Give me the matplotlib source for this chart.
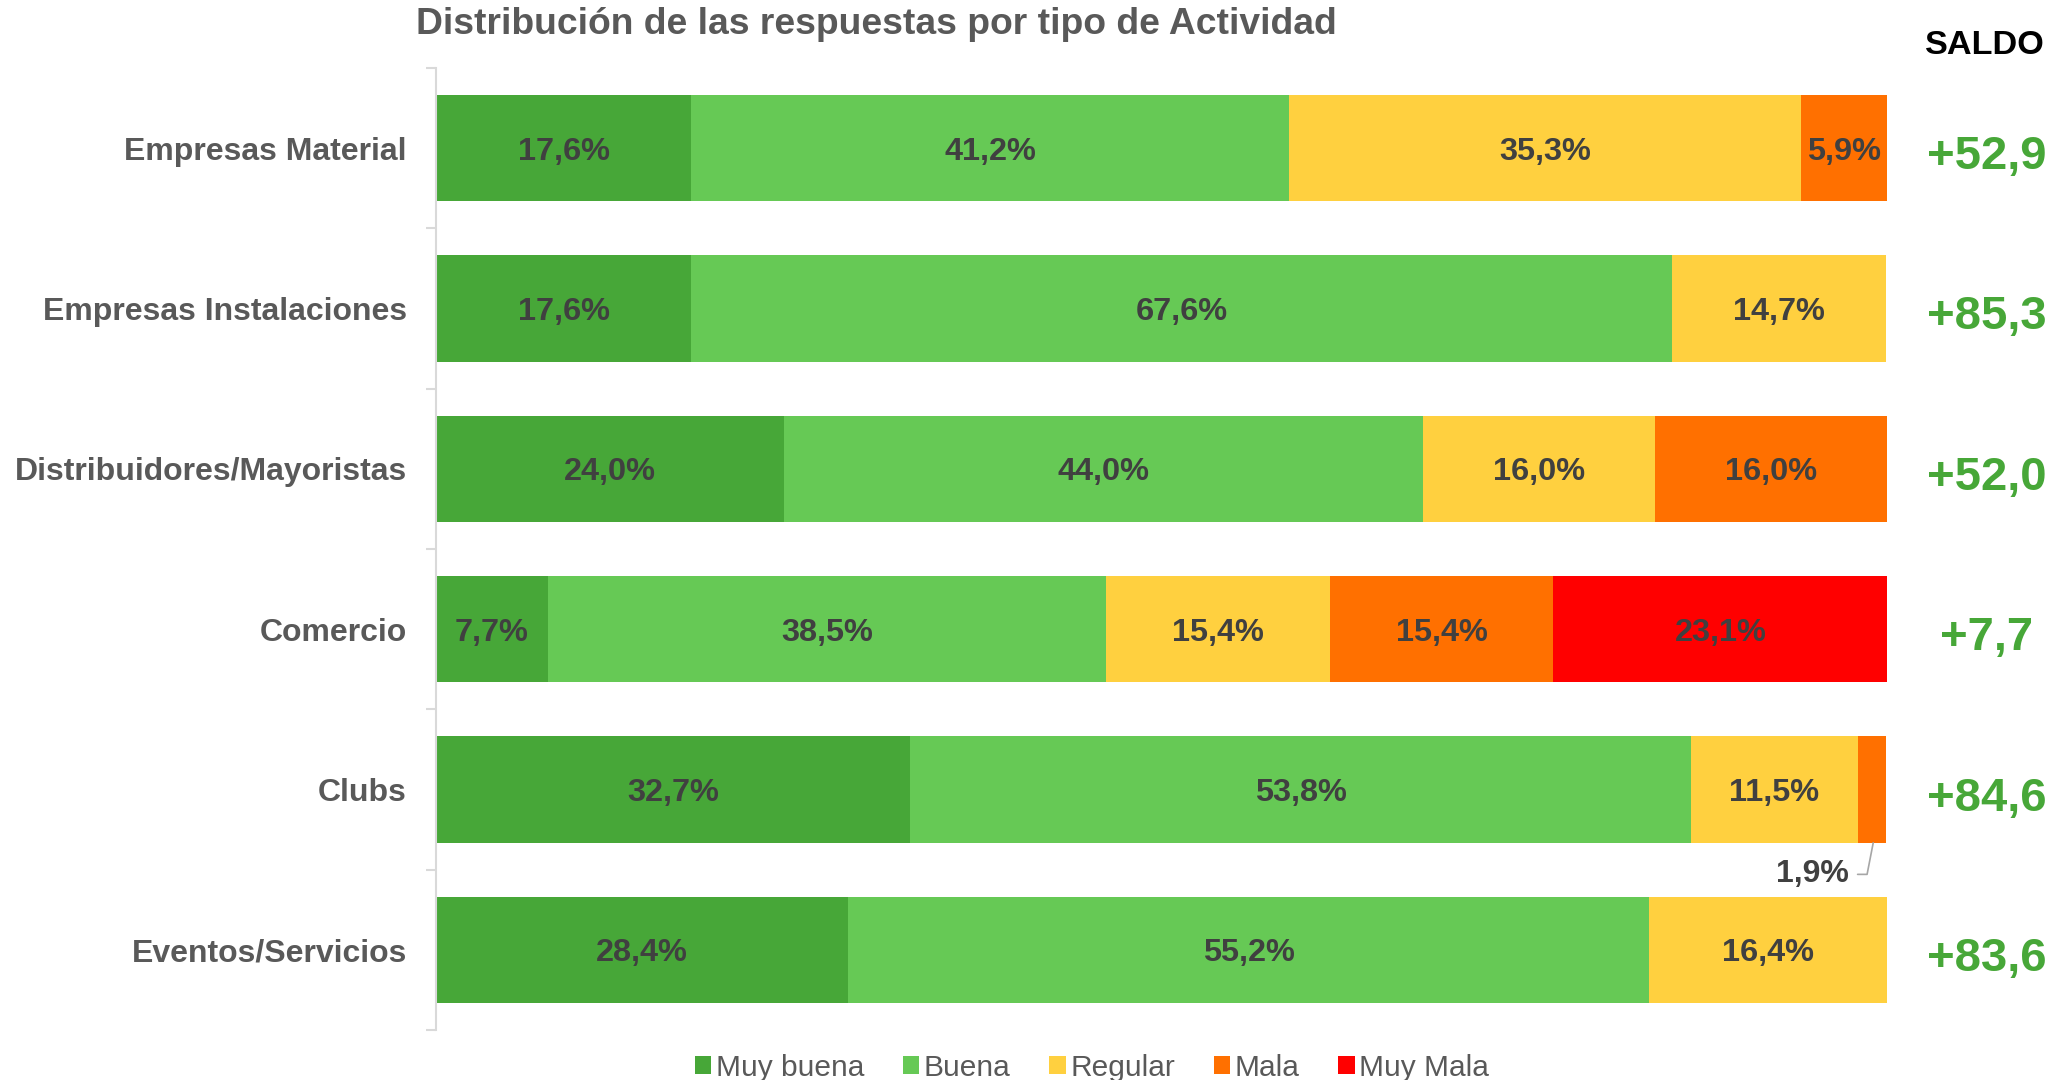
import matplotlib
matplotlib.use("Agg")
import matplotlib.pyplot as plt
from matplotlib.patches import Patch

plt.rcParams['font.family'] = ['Liberation Sans', 'DejaVu Sans']

categories = ["Empresas Material", "Empresas Instalaciones", "Distribuidores/Mayoristas",
              "Comercio", "Clubs", "Eventos/Servicios"]
series_names = ["Muy buena", "Buena", "Regular", "Mala", "Muy Mala"]
muy_buena = [17.6, 17.6, 24.0, 7.7, 32.7, 28.4]
buena = [41.2, 67.6, 44.0, 38.5, 53.8, 55.2]
regular = [35.3, 14.7, 16.0, 15.4, 11.5, 16.4]
mala = [5.9, 0.0, 16.0, 15.4, 1.9, 0.0]
muy_mala = [0.0, 0.0, 0.0, 23.1, 0.0, 0.0]
saldo = [52.9, 85.3, 52.0, 7.7, 84.6, 83.6]

colors = ["#47A738", "#66C955", "#FFD03F", "#FF7000", "#FF0000"]
label_color = "#404040"
gray_text = "#595959"

W, H = 2066, 1080
fig = plt.figure(figsize=(W / 100, H / 100), dpi=100)
ax = fig.add_axes([436 / W, 1 - 1030 / H, (1887 - 436) / W, (1030 - 68) / H])

series = [muy_buena, buena, regular, mala, muy_mala]
ypos = list(range(len(categories)))
left = [0.0] * len(categories)
for name, vals, col in zip(series_names, series, colors):
    ax.barh(ypos, vals, left=left, height=0.665, color=col, edgecolor='none', label=name)
    for i, v in enumerate(vals):
        if v <= 0:
            continue
        cx = left[i] + v / 2
        txt = f"{v:.1f}%".replace('.', ',')
        if v < 3:
            # label outside with leader line
            ax.annotate(txt, xy=(left[i] + v / 2 + 0.1, i + 0.665 / 2),
                        xytext=(left[i] - 0.6, i + 0.665 / 2 + 0.175),
                        ha='right', va='center_baseline', fontsize=23, fontweight='bold',
                        color=label_color,
                        arrowprops=dict(arrowstyle='-', color='#A6A6A6', lw=1.2,
                                        connectionstyle='angle,angleA=0,angleB=79,rad=0',
                                        shrinkA=4, shrinkB=0))
        else:
            ax.text(cx, i, txt, ha='center', va='center_baseline', fontsize=23.4,
                    fontweight='bold', color=label_color)
    left = [l + v for l, v in zip(left, vals)]

ax.set_xlim(0, 100)
ax.set_ylim(len(categories) - 0.5, -0.5)
ax.set_xticks([])
for s in ['top', 'right', 'bottom']:
    ax.spines[s].set_visible(False)
ax.spines['left'].set_color('#D9D9D9')
ax.spines['left'].set_linewidth(1.5)

ax.set_yticks(ypos)
ax.set_yticklabels(categories, fontsize=23, fontweight='bold', color=gray_text)
ax.tick_params(axis='y', which='major', length=0, pad=21)
ax.set_yticks([i - 0.5 for i in range(len(categories) + 1)], minor=True)
ax.tick_params(axis='y', which='minor', length=7, width=1.5, color='#D9D9D9')

# Saldo column
for i, s in enumerate(saldo):
    ax.annotate(f"+{s:.1f}".replace('.', ','), xy=(100, i), xycoords='data',
                xytext=(1987 - 1887, -4), textcoords='offset pixels',
                ha='center', va='center_baseline', fontsize=34, fontweight='bold',
                color="#47A738")

fig.text(2045 / W, 1 - 45 / H, "SALDO", ha='right', va='center', fontsize=24.7,
         fontweight='bold', color='black')

fig.text(876 / W, 1 - 25 / H, "Distribución de las respuestas por tipo de Actividad",
         ha='center', va='center', fontsize=26.8, fontweight='bold', color=gray_text)

handles = [Patch(facecolor=c, edgecolor='none', label=n) for c, n in zip(colors, series_names)]
leg = fig.legend(handles=handles, loc='center', bbox_to_anchor=(1092 / W, 1 - 1068 / H),
                 ncol=5, frameon=False, fontsize=21.5, handlelength=0.55, handleheight=0.55,
                 handletextpad=0.15, columnspacing=1.3, labelcolor=gray_text)

fig.savefig("out.png", dpi=100)
